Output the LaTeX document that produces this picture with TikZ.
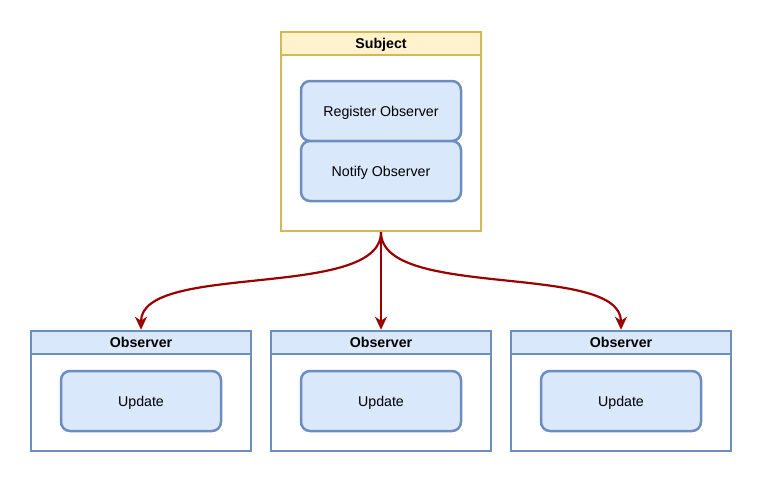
\documentclass[tikz,border=0pt]{standalone}
\usepackage{fontspec}
\setmainfont{Liberation Sans}
\usetikzlibrary{arrows.meta,calc}
\definecolor{subfill}{HTML}{FFF2CC}
\definecolor{subline}{HTML}{D6B656}
\definecolor{obsfill}{HTML}{DAE8FC}
\definecolor{obsline}{HTML}{6C8EBF}
\definecolor{edgecol}{HTML}{990000}
\tikzset{
  container/.style={draw=#1, line width=2.5pt, fill=white, inner sep=0pt},
  header/.style={draw=#1, line width=2.5pt, inner sep=0pt, minimum height=23pt, text height=10.2pt, text depth=0pt, font=\fontsize{14.2}{16}\selectfont\bfseries},
  method/.style={draw=obsline, fill=obsfill, line width=2.5pt, rounded corners=9pt, minimum width=160pt, minimum height=60pt, inner sep=0pt, text height=10.2pt, text depth=0pt, font=\fontsize{14.2}{16}\selectfont},
  link/.style={draw=edgecol, line width=2.2pt, -{Stealth[length=13pt,width=12pt,inset=4pt]}}
}
\begin{document}
\begin{tikzpicture}[x=1pt,y=-1pt]
\useasboundingbox (0,0) rectangle (763,483);
% Subject
\node[container=subline, minimum width=200pt, minimum height=199pt] (sub) at (381,131.5) {};
\node[header=subline, fill=subfill, minimum width=200pt] (subh) at (381,43.5) {Subject};
\node[method] (reg) at (381,111) {Register Observer};
\node[method] (notif) at (381,171) {Notify Observer};
% Observers
\foreach \i/\cx in {1/141,2/381,3/621}{
  \node[container=obsline, minimum width=220pt, minimum height=120pt] (o\i) at (\cx,391) {};
  \node[header=obsline, fill=obsfill, minimum width=220pt] (h\i) at (\cx,342.5) {Observer};
  \node[method] (u\i) at (\cx,401) {Update};
}
\draw[link] (sub.south) .. controls +(0,68) and +(0,-68) .. (h1.north);
\draw[link] (sub.south) -- (h2.north);
\draw[link] (sub.south) .. controls +(0,68) and +(0,-68) .. (h3.north);
\end{tikzpicture}
\end{document}
